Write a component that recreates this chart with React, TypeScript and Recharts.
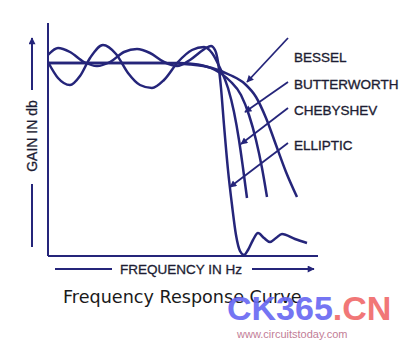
import React from "react";
import { LineChart, Line, XAxis, YAxis, ReferenceLine } from "recharts";

// frequency / gain readings in arbitrary units (x: 0..27, y: 0..23.3)
const ellipticFreq = [0, 1.0, 2.2, 3.6, 4.9, 6.2, 7.6, 8.9, 10.2, 11.6, 12.9, 14.2, 15.5, 15.8, 16.3, 16.7, 17.0, 17.3, 17.6, 18.0, 18.4, 18.8, 19.2, 19.6, 20.0, 20.5, 21.0, 21.6, 22.2, 22.8, 23.4, 24.7, 25.9];
const ellipticGain = [20.1, 20.8, 20.4, 19.4, 19.0, 19.4, 20.4, 20.7, 20.3, 19.4, 19.0, 19.6, 20.6, 20.8, 21.0, 20.6, 19.4, 16.8, 13.1, 8.6, 5.1, 2.1, 0.5, 0.1, 0.6, 1.6, 2.3, 1.8, 1.4, 1.8, 2.2, 1.7, 1.3];

const chebyshevFreq = [0, 1.0, 2.2, 3.2, 4.2, 5.5, 6.8, 8.0, 9.2, 10.4, 11.6, 13.0, 14.4, 15.6, 16.4, 17.2, 18.0, 18.6, 19.1, 19.5, 19.9];
const chebyshevGain = [19.4, 17.8, 17.1, 18.0, 19.8, 21.1, 20.2, 18.3, 17.1, 16.8, 17.6, 19.4, 20.6, 20.9, 20.3, 18.8, 16.8, 14.4, 11.6, 8.8, 5.8];

const butterworthFreq = [0, 13.2, 15.0, 16.7, 18.2, 19.3, 20.1, 20.8, 21.4, 21.9];
const butterworthGain = [19.3, 19.3, 19.15, 18.6, 17.5, 16.1, 14.1, 11.6, 8.8, 5.9];

const besselFreq = [0, 11.2, 14.2, 16.4, 18.2, 19.7, 20.8, 21.8, 22.8, 23.8, 24.9];
const besselGain = [19.3, 19.3, 19.15, 18.8, 18.1, 17.2, 15.9, 13.8, 11.1, 8.4, 5.9];

// label arrows: start near the label, end on the curve
const arrowNames = ["BESSEL", "BUTTERWORTH", "CHEBYSHEV", "ELLIPTIC"];
const arrowStart = [[24.0, 21.8], [24.0, 17.4], [24.0, 14.8], [24.0, 11.3]];
const arrowEnd = [[19.9, 17.4], [19.7, 14.4], [19.3, 11.2], [18.2, 6.9]];
const labelBaselines = [62, 89, 115, 150];

const INK = "#25257a";
const TEXT = "#1d1d33";
const SANS = "'Liberation Sans', Arial, sans-serif";

const toPoints = (f: number[], g: number[]) => f.map((v, i) => ({ f: v, g: g[i] }));

const curves = [
  { name: "elliptic", data: toPoints(ellipticFreq, ellipticGain) },
  { name: "chebyshev", data: toPoints(chebyshevFreq, chebyshevGain) },
  { name: "butterworth", data: toPoints(butterworthFreq, butterworthGain) },
  { name: "bessel", data: toPoints(besselFreq, besselGain) },
];

export default function App() {
  return (
    <div
      style={{
        position: "absolute",
        left: 0,
        top: 0,
        width: 404,
        height: 343,
        background: "#fff",
        overflow: "hidden",
      }}
    >
      <div style={{ position: "absolute", left: 0, top: 0 }}>
        <LineChart
          width={404}
          height={343}
          margin={{ top: 23, right: 86, bottom: 87, left: 48 }}
        >
          <XAxis dataKey="f" type="number" domain={[0, 27]} hide allowDataOverflow />
          <YAxis type="number" domain={[0, 23.3]} hide allowDataOverflow />
          <ReferenceLine x={0} stroke={INK} strokeWidth={2} />
          <ReferenceLine y={0} stroke={INK} strokeWidth={2} />
          {curves.map((c) => (
            <Line
              key={c.name}
              data={c.data}
              dataKey="g"
              type="monotone"
              stroke={INK}
              strokeWidth={2.5}
              dot={false}
              activeDot={false}
              isAnimationActive={false}
            />
          ))}
          {arrowNames.map((n, i) => (
            <Line
              key={n}
              data={[
                { f: arrowStart[i][0], g: arrowStart[i][1] },
                { f: arrowEnd[i][0], g: arrowEnd[i][1] },
              ]}
              dataKey="g"
              type="linear"
              stroke={INK}
              strokeWidth={1.8}
              dot={false}
              activeDot={false}
              markerEnd="url(#arrowHead)"
              isAnimationActive={false}
            />
          ))}
        </LineChart>
      </div>
      <svg
        width={404}
        height={343}
        style={{ position: "absolute", left: 0, top: 0, pointerEvents: "none" }}
      >
        <defs>
          <marker
            id="arrowHead"
            viewBox="0 0 10 10"
            refX="9"
            refY="5"
            markerWidth="9"
            markerHeight="7"
            markerUnits="userSpaceOnUse"
            orient="auto"
          >
            <path d="M0,0 L10,5 L0,10 z" fill={INK} />
          </marker>
        </defs>

        {arrowNames.map((n, i) => (
          <text
            key={n}
            x={294}
            y={labelBaselines[i]}
            fontFamily={SANS}
            fontSize={13.5}
            fill={TEXT}
            stroke={TEXT}
            strokeWidth={0.35}
          >
            {n}
          </text>
        ))}

        {/* y axis title with arrow */}
        <line x1={32} y1={90} x2={32} y2={38} stroke={INK} strokeWidth={2} markerEnd="url(#arrowHead)" />
        <line x1={32} y1={184} x2={32} y2={247} stroke={INK} strokeWidth={2} />
        <text
          x={32}
          y={136}
          dy={5}
          textAnchor="middle"
          transform="rotate(-90 32 136)"
          fontFamily={SANS}
          fontSize={14}
          fill={TEXT}
          stroke={TEXT}
          strokeWidth={0.3}
        >
          GAIN IN db
        </text>

        {/* x axis title with arrow */}
        <line x1={55} y1={269} x2={112} y2={269} stroke={INK} strokeWidth={2} />
        <line x1={252} y1={269} x2={314} y2={269} stroke={INK} strokeWidth={2} markerEnd="url(#arrowHead)" />
        <text
          x={120}
          y={274}
          fontFamily={SANS}
          fontSize={13.5}
          fill={TEXT}
          stroke={TEXT}
          strokeWidth={0.3}
        >
          FREQUENCY IN Hz
        </text>

        <text x={63} y={303} fontFamily="'DejaVu Sans', sans-serif" fontSize={17.6} fill="#1a1a1a">
          Frequency Response Curve
        </text>

        <text x={227} y={320} fontFamily={SANS} fontWeight="bold" fontSize={34} opacity={0.92}>
          <tspan fill="#6a6af2">CK365</tspan>
          <tspan fill="#f06c6c">.CN</tspan>
        </text>
        <text x={237} y={338} fontFamily={SANS} fontSize={11} fill="#a8466a" opacity={0.7}>
          www.circuitstoday.com
        </text>
      </svg>
    </div>
  );
}
